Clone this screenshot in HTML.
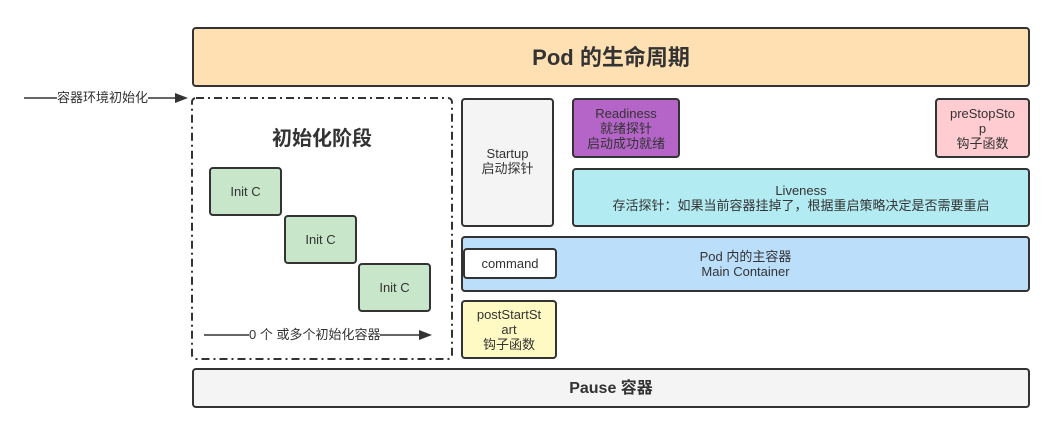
<!DOCTYPE html>
<html><head><meta charset="utf-8"><style>
body{margin:0;width:1055px;height:438px;background:#fff;position:relative;overflow:hidden;font-family:"Liberation Sans","Noto Sans CJK SC",sans-serif;color:#333}
.b{position:absolute;box-sizing:border-box;border:2px solid #333;border-radius:4px;display:flex;align-items:center;justify-content:center;text-align:center;font-size:13px;line-height:15px}
.t{position:absolute;font-size:13px;background:#fff;white-space:nowrap;line-height:14px}
</style></head><body>
<div class="b" style="left:192px;top:27px;width:838px;height:60px;background:#ffe0b3;font-size:22px;font-weight:bold">Pod 的生命周期</div>
<div class="b" style="left:192px;top:368px;width:838px;height:40px;background:#f4f4f4;font-size:16px;font-weight:bold">Pause 容器</div>
<svg style="position:absolute;left:0;top:0" width="1055" height="438">
<rect x="192" y="98" width="260" height="261" rx="4" fill="none" stroke="#333" stroke-width="2" stroke-dasharray="8,4,2,4"/>
<line x1="24" y1="98" x2="176" y2="98" stroke="#333" stroke-width="1.5"/><polygon points="188,98 175,93 175,103" fill="#333"/>
<line x1="204" y1="335" x2="420" y2="335" stroke="#333" stroke-width="1.5"/><polygon points="432,335 419,330 419,340" fill="#333"/>
</svg>
<div class="t" style="left:57px;top:91px">容器环境初始化</div>
<div class="t" style="left:249px;top:328px">0 个 或多个初始化容器</div>
<div style="position:absolute;left:192px;top:122px;width:260px;text-align:center;font-size:20px;font-weight:bold">初始化阶段</div>
<div class="b" style="left:209px;top:167px;width:73px;height:49px;background:#c8e6c9">Init C</div>
<div class="b" style="left:284px;top:215px;width:73px;height:49px;background:#c8e6c9">Init C</div>
<div class="b" style="left:358px;top:263px;width:73px;height:49px;background:#c8e6c9">Init C</div>
<div class="b" style="left:461px;top:98px;width:93px;height:129px;background:#f4f4f4;align-items:flex-start;padding-top:46px">Startup<br>启动探针</div>
<div class="b" style="left:572px;top:98px;width:108px;height:60px;background:#b565c8">Readiness<br>就绪探针<br>启动成功就绪</div>
<div class="b" style="left:935px;top:98px;width:95px;height:60px;background:#ffccd2">preStopSto<br>p<br>钩子函数</div>
<div class="b" style="left:572px;top:168px;width:458px;height:59px;background:#b2ebf2">Liveness<br>存活探针：如果当前容器挂掉了，根据重启策略决定是否需要重启</div>
<div class="b" style="left:461px;top:236px;width:569px;height:56px;background:#bbdefb">Pod 内的主容器<br>Main Container</div>
<div class="b" style="left:463px;top:248px;width:94px;height:31px;background:#fff">command</div>
<div class="b" style="left:461px;top:300px;width:96px;height:59px;background:#fff9c4">postStartSt<br>art<br>钩子函数</div>
</body></html>
